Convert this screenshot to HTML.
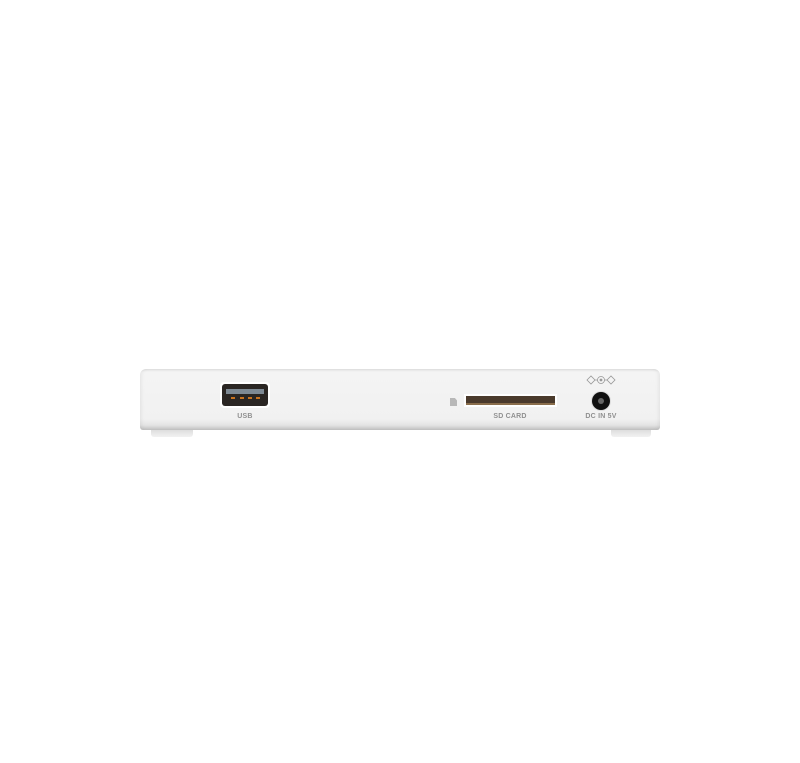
<!DOCTYPE html>
<html><head><style>
html,body{margin:0;padding:0;background:#fff;}
body{width:800px;height:763px;position:relative;overflow:hidden;font-family:"Liberation Sans",sans-serif;}
.a{position:absolute;}
.lbl{position:absolute;font-size:7px;color:#909090;font-weight:bold;letter-spacing:0.2px;transform:translateX(-50%);}
</style></head><body>
<div class="a" style="left:151px;top:428px;width:42px;height:9px;background:linear-gradient(#d8d8d8,#f2f2f2);border-radius:0 0 3px 3px;"></div>
<div class="a" style="left:611px;top:428px;width:40px;height:9px;background:linear-gradient(#d8d8d8,#f2f2f2);border-radius:0 0 3px 3px;"></div>
<div class="a" style="left:140px;top:369px;width:520px;height:61px;border-radius:6px 6px 3px 3px;background:linear-gradient(#e6e6e6 0px,#f4f4f4 3px,#f1f1f1 50px,#e4e4e4 56px,#c9c9c9 60px);box-shadow:inset 2px 0 3px rgba(0,0,0,0.05),inset -2px 0 3px rgba(0,0,0,0.05);"></div>
<!-- USB -->
<div class="a" style="left:220px;top:382px;width:50px;height:26px;background:#fff;border-radius:4px;"></div>
<div class="a" style="left:222px;top:384px;width:46px;height:22px;background:#2a2623;border-radius:3px;"></div>
<div class="a" style="left:226px;top:389px;width:38px;height:5px;background:#7e8a94;"></div>
<div class="a" style="left:231px;top:397px;width:4px;height:2px;background:#c8731f;"></div>
<div class="a" style="left:240px;top:397px;width:4px;height:2px;background:#c8731f;"></div>
<div class="a" style="left:248px;top:397px;width:4px;height:2px;background:#c8731f;"></div>
<div class="a" style="left:256px;top:397px;width:4px;height:2px;background:#c8731f;"></div>
<div class="lbl" style="left:245px;top:413px;">USB</div>
<!-- SD -->
<div class="a" style="left:450px;top:398px;width:7px;height:8px;background:#b8b8b8;clip-path:polygon(0 0,70% 0,100% 30%,100% 100%,0 100%);"></div>
<div class="a" style="left:464px;top:394px;width:93px;height:13px;background:#fff;"></div>
<div class="a" style="left:466px;top:396px;width:89px;height:9px;background:#4a3a2c;border-bottom:2px solid #8a6e4c;box-sizing:border-box;"></div>
<div class="lbl" style="left:510px;top:413px;">SD CARD</div>
<!-- DC -->
<div class="a" style="left:592px;top:392px;width:18px;height:18px;border-radius:50%;background:#111;box-shadow:0 0 0 1px #ddd;"></div>
<div class="a" style="left:598px;top:398px;width:6px;height:6px;border-radius:50%;background:#666;"></div>
<svg class="a" style="left:586px;top:375px" width="30" height="10">
<g fill="none" stroke="#999" stroke-width="0.8">
<path d="M1 5 L5 1 L9 5 L5 9Z"/><circle cx="15" cy="5" r="3.5"/><circle cx="15" cy="5" r="1" fill="#999"/><path d="M21 5 L25 1 L29 5 L25 9Z"/>
<path d="M9 5H11.5M18.5 5H21"/></g></svg>
<div class="lbl" style="left:601px;top:413px;">DC IN 5V</div>
</body></html>
